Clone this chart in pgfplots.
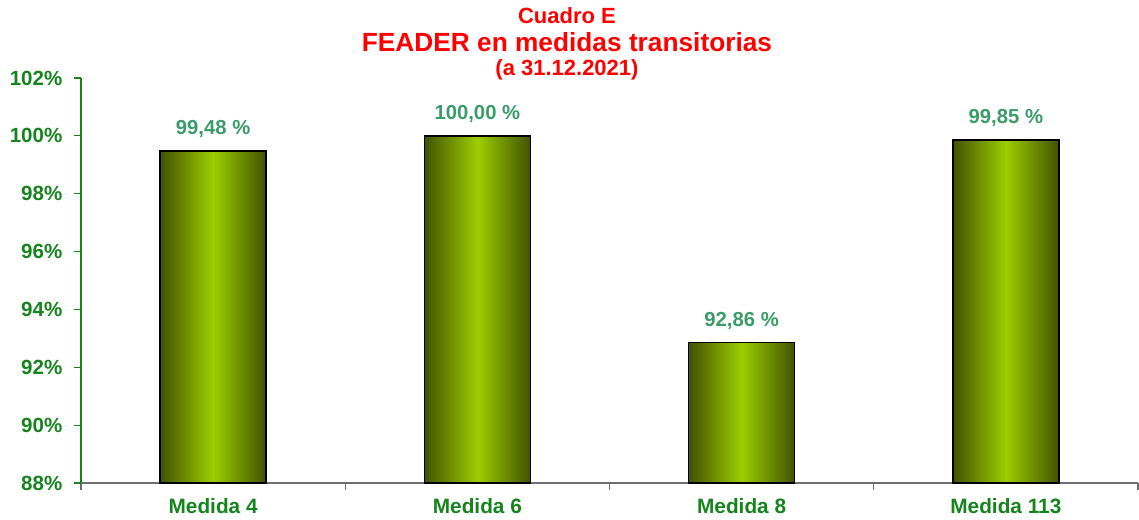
\documentclass[border=0pt]{standalone}
\usepackage{fontspec}
\setmainfont{Liberation Sans}
\usepackage{pgfplots}
\pgfplotsset{compat=1.18}
\definecolor{tickgreen}{RGB}{22,132,28}
\definecolor{valgreen}{RGB}{58,156,104}
\definecolor{bardark}{RGB}{66,82,0}
\definecolor{barlight}{RGB}{156,206,0}
\definecolor{axisgray}{RGB}{110,110,110}
\pgfplotsset{
  shadedbar/.style={draw=black, line width=1.1pt, bar shift=0pt,
    left color=bardark, right color=bardark, middle color=barlight},
}
\begin{document}
\begin{tikzpicture}
\begin{axis}[
  scale only axis,
  width=792.75pt, height=303.75pt,
  at={(0,0)}, anchor=south west,
  xmin=-0.5, xmax=3.5,
  ymin=88, ymax=102,
  axis x line*=bottom, axis y line*=left,
  x axis line style={draw=axisgray, line width=0.9pt},
  y axis line style={draw=tickgreen, line width=0.9pt},
  tick align=outside,
  major tick length=5.5pt,
  ytick={88,90,...,102},
  yticklabels={88\%,90\%,92\%,94\%,96\%,98\%,100\%,102\%},
  ytick style={draw=tickgreen, line width=0.9pt},
  yticklabel style={font=\fontsize{15.4}{18}\selectfont\bfseries, text=tickgreen, xshift=-5pt},
  xtick={-0.5,0.5,1.5,2.5,3.5},
  xticklabels={},
  xtick style={draw=axisgray, line width=0.9pt},
  extra x ticks={0,1,2,3},
  extra x tick labels={Medida 4,Medida 6,Medida 8,Medida 113},
  extra x tick style={major tick length=0pt,
    xticklabel style={font=\fontsize{15.6}{18}\selectfont\bfseries, text=tickgreen, yshift=-8pt}},
  /pgf/number format/assume math mode=true,
  ybar, bar width=79.5pt,
  nodes near coords,
  point meta=explicit symbolic,
  every node near coord/.append style={font=\fontsize{15.2}{18}\selectfont\bfseries, text=valgreen, yshift=6pt},
  clip=false,
]
% one plot per bar so each bar gets its own shading
\addplot[shadedbar] coordinates {(0,99.48) [99,48 \%]};
\addplot[shadedbar] coordinates {(1,100.00) [100,00 \%]};
\addplot[shadedbar] coordinates {(2,92.86) [92,86 \%]};
\addplot[shadedbar] coordinates {(3,99.85) [99,85 \%]};
\end{axis}
\node[anchor=base, text=red, font=\fontsize{16.5}{18}\selectfont\bfseries] at (364.5pt,344.5pt) {Cuadro E};
\node[anchor=base, text=red, font=\fontsize{19.7}{22}\selectfont\bfseries] at (364.5pt,323.5pt) {FEADER en medidas transitorias};
\node[anchor=base, text=red, font=\fontsize{16.5}{18}\selectfont\bfseries] at (364.5pt,306pt) {(a 31.12.2021)};
\pgfresetboundingbox
\path[use as bounding box] (-60.75pt,-27pt) rectangle (793.5pt,362.25pt);
\end{tikzpicture}
\end{document}
